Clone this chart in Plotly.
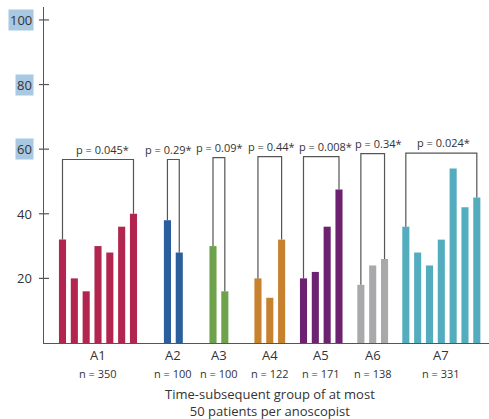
import plotly.graph_objects as go

# ---- data ----
groups = ["A1", "A2", "A3", "A4", "A5", "A6", "A7"]
n_labels = ["n = 350", "n = 100", "n = 100", "n = 122", "n = 171", "n = 138", "n = 331"]
values_A1 = [32, 20, 16, 30, 28, 36, 40]
values_A2 = [38, 28]
values_A3 = [30, 16]
values_A4 = [20, 14, 32]
values_A5 = [20, 22, 36, 47.5]
values_A6 = [18, 24, 26]
values_A7 = [36, 28, 24, 32, 54, 42, 45]
p_labels = ["p = 0.045*", "p = 0.29*", "p = 0.09*", "p = 0.44*", "p = 0.008*", "p = 0.34*", "p = 0.024*"]
y_ticks = [20, 40, 60, 80, 100]
highlighted_ticks = [60, 80, 100]

# ---- style / layout constants ----
colors = ["#b2254e", "#2b5e9c", "#6ea34c", "#c7822f", "#6c2270", "#a9a9ab", "#53adbe"]
gaps = [2.87, 2.85, 2.8, 1.85, 1.85, 1.8]
bracket_tops = [56.8, 56.8, 57.4, 57.7, 57.7, 58.6, 58.8]
label_shift = [4, -5, 1, 2, 4, 6, 2]
bar_w = 0.6
W, H = 489, 419
ML, MR, MT, MB = 44, 0, 7, 76
XR = [-1.564, 36.05]
YR = [0, 104]
line_col = "#555555"
txt_col = "#333333"
FONT = "Open Sans"

all_values = [values_A1, values_A2, values_A3, values_A4, values_A5, values_A6, values_A7]

fig = go.Figure()
shapes = []
annotations = []

pos = 0.0
for gi, vals in enumerate(all_values):
    if gi > 0:
        pos += gaps[gi - 1]
    xs = [pos + i for i in range(len(vals))]
    pos = xs[-1]
    fig.add_trace(go.Bar(x=xs, y=vals, width=bar_w, marker=dict(color=colors[gi], line=dict(width=0)),
                         showlegend=False, hoverinfo="skip"))
    top = bracket_tops[gi]
    # bracket
    shapes.append(dict(type="path", xref="x", yref="y",
                       path=f"M {xs[0]},{vals[0]} L {xs[0]},{top} L {xs[-1]},{top} L {xs[-1]},{vals[-1]}",
                       line=dict(color=line_col, width=1.2)))
    cx = (xs[0] + xs[-1]) / 2
    annotations.append(dict(x=cx, y=top + 3.2, xref="x", yref="y", text=p_labels[gi], showarrow=False,
                            xshift=label_shift[gi], font=dict(size=11, color=txt_col, family=FONT),
                            xanchor="center", yanchor="middle"))
    # group labels below axis
    annotations.append(dict(x=cx, y=0, xref="x", yref="y", text=groups[gi], showarrow=False,
                            yshift=-12, font=dict(size=13, color=txt_col, family=FONT),
                            xanchor="center", yanchor="middle"))
    annotations.append(dict(x=cx, y=0, xref="x", yref="y", text=n_labels[gi], showarrow=False,
                            yshift=-30, font=dict(size=11, color=txt_col, family=FONT),
                            xanchor="center", yanchor="middle"))

# y ticks crossing the axis + labels
pw = W - ML - MR
tick_half = 5.0 / pw
for t in y_ticks:
    shapes.append(dict(type="line", xref="paper", yref="y", x0=-tick_half, x1=tick_half, y0=t, y1=t,
                       line=dict(color=line_col, width=1.2)))
    annotations.append(dict(x=-10.0 / pw, y=t, xref="paper", yref="y", text=str(t), showarrow=False,
                            xanchor="right", yanchor="middle",
                            bgcolor="#a9c8e2" if t in highlighted_ticks else "rgba(0,0,0,0)",
                            borderpad=1, font=dict(size=13, color=txt_col, family=FONT)))

# axis title
annotations.append(dict(x=0.5, y=0, xref="paper", yref="y",
                        text="Time-subsequent group of at most<br>50 patients per anoscopist",
                        showarrow=False, xanchor="center", yanchor="top", yshift=-40, xshift=3,
                        font=dict(size=13, color=txt_col, family=FONT)))

fig.update_layout(
    width=W, height=H,
    margin=dict(l=ML, r=MR, t=MT, b=MB, pad=0),
    paper_bgcolor="white", plot_bgcolor="white",
    barmode="overlay",
    shapes=shapes, annotations=annotations,
    xaxis=dict(range=XR, showline=True, linecolor=line_col, linewidth=1.2, showgrid=False,
               zeroline=False, showticklabels=False, ticks="", fixedrange=True),
    yaxis=dict(range=YR, showline=True, linecolor=line_col, linewidth=1.2, showgrid=False,
               zeroline=False, showticklabels=False, ticks="", fixedrange=True),
    font=dict(family=FONT),
)

fig.write_html("out.html", config={"displayModeBar": False},
               post_script="document.body.style.margin='0';document.body.style.overflow='hidden';")
